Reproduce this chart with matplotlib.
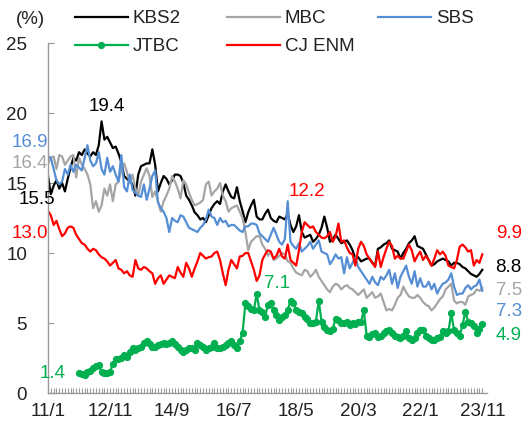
#!/usr/bin/env python3
"""
plot.py - monthly channel share lines (KBS2 / MBC / SBS / JTBC / CJ ENM), 2011/1 - 2023/11.
Writes out.png (525x422).
"""

import matplotlib.pyplot as plt
import numpy as np
import pandas as pd


# ── Data ───────────────────────────────────────────────────────────────────────

months = pd.period_range("2011-01", "2023-11", freq="M")
jtbc_first_month = "2011-12"

kbs2 = [
    15.5, 14.2, 14.8, 15.2, 14.6, 15.0, 14.4, 15.3, 16.1, 16.8,
    16.6, 17.2, 17.0, 17.4, 17.1, 16.9, 17.2, 17.0, 17.7, 19.4,
    18.1, 18.3, 17.9, 17.5, 17.6, 17.1, 16.5, 15.5, 15.3, 15.1,
    14.9, 14.1, 15.6, 16.2, 16.3, 16.4, 16.4, 17.4, 16.3, 14.4,
    15.0, 15.5, 15.3, 14.9, 15.2, 15.6, 15.6, 15.5, 15.0, 14.1,
    13.8, 13.4, 12.9, 12.7, 12.4, 12.5, 12.2, 12.7, 13.2, 13.5,
    13.7, 13.5, 14.4, 14.9, 14.4, 14.0, 13.9, 14.7, 13.7, 13.0,
    12.2, 12.9, 13.4, 13.8, 12.6, 12.4, 12.4, 12.8, 13.1, 12.5,
    12.3, 12.2, 12.6, 12.5, 12.4, 12.8, 12.0, 11.5, 11.9, 12.7,
    11.5, 11.1, 11.2, 11.3, 10.8, 11.0, 11.3, 11.8, 12.6, 11.8,
    10.8, 11.0, 11.3, 11.0, 10.7, 10.8, 10.9, 10.6, 10.2, 9.6,
    9.7, 9.4, 9.5, 9.6, 9.6, 9.3, 9.1, 10.3, 10.4, 10.6,
    10.7, 10.9, 10.3, 10.2, 10.1, 9.6, 10.0, 10.3, 10.7, 10.9,
    11.2, 10.5, 10.4, 10.3, 9.9, 9.5, 9.1, 9.2, 9.4, 9.5,
    9.6, 9.5, 9.4, 9.1, 9.3, 9.3, 9.2, 9.0, 8.9, 8.7,
    8.5, 8.4, 8.3, 8.5, 8.8,
]

mbc = [
    16.4, 16.8, 16.9, 16.0, 17.0, 16.9, 16.3, 16.6, 16.9, 17.0,
    15.4, 16.8, 16.3, 16.0, 15.6, 14.9, 13.2, 13.7, 12.95, 13.4,
    14.6, 14.1, 14.9, 13.7, 14.9, 15.1, 15.9, 16.4, 15.8, 15.0,
    15.6, 14.6, 14.1, 15.1, 15.6, 16.05, 15.5, 14.0, 14.4, 13.7,
    12.95, 13.7, 14.1, 14.6, 15.5, 15.1, 14.6, 13.9, 15.2, 14.9,
    14.3, 13.8, 13.4, 13.5, 13.6, 13.8, 14.9, 15.1, 14.1, 14.4,
    14.6, 15.0, 14.1, 13.7, 12.95, 13.2, 13.3, 13.4, 12.95, 12.5,
    11.5, 10.2, 10.8, 11.0, 11.2, 11.2, 10.6, 10.3, 9.8, 10.1,
    9.5, 9.6, 9.8, 10.0, 9.9, 9.4, 9.3, 8.9, 8.6, 8.5,
    8.4, 8.8, 8.7, 8.3, 8.5, 8.8, 8.3, 8.0, 7.7, 7.4,
    7.2, 7.6, 7.8, 7.7, 7.4, 7.6, 7.7, 7.5, 7.4, 7.2,
    7.0, 7.2, 7.4, 6.8, 7.0, 7.2, 6.8, 6.9, 7.1, 6.5,
    5.9, 6.0, 5.9, 6.3, 6.8, 7.0, 7.6, 7.2, 6.9, 6.8,
    6.8, 7.0, 6.8, 6.5, 6.3, 6.2, 5.9, 6.1, 6.4, 6.7,
    6.9, 7.4, 7.6, 7.8, 6.6, 6.4, 6.5, 6.5, 6.3, 6.9,
    7.0, 7.1, 7.4, 7.3, 7.5,
]

sbs = [
    16.9, 16.8, 16.0, 15.2, 14.9, 15.1, 16.0, 15.6, 16.3, 15.8,
    16.3, 16.1, 15.9, 16.8, 17.7, 16.6, 16.2, 16.4, 17.2, 16.0,
    15.6, 16.8, 15.8, 16.2, 15.6, 15.1, 17.0, 14.7, 14.4, 15.6,
    14.5, 14.3, 14.1, 14.0, 14.9, 13.8, 14.6, 15.5, 15.9, 13.6,
    13.2, 12.95, 12.5, 11.5, 12.5, 12.3, 12.2, 12.7, 12.6, 12.2,
    11.8, 11.7, 11.6, 11.5, 11.8, 12.0, 12.4, 13.1, 12.6, 12.5,
    12.0, 12.5, 12.2, 12.3, 11.9, 12.0, 12.0, 11.8, 11.6, 11.5,
    11.9, 11.9, 12.1, 12.1, 12.0, 11.4, 11.2, 11.0, 10.8, 11.3,
    11.8, 11.3, 10.8, 10.6, 11.0, 13.7, 10.8, 10.5, 10.3, 10.7,
    10.1, 10.3, 10.5, 10.8, 10.3, 10.6, 10.9, 10.1, 10.0, 9.9,
    9.2, 9.5, 9.9, 9.6, 9.7, 8.55, 9.7, 8.9, 9.3, 9.7,
    9.0, 8.7, 8.4, 8.1, 7.8, 8.3, 7.9, 7.7, 8.3, 8.1,
    8.4, 8.8, 7.8, 8.55, 7.5, 8.3, 8.7, 9.1, 8.3, 7.8,
    8.7, 7.6, 8.2, 7.6, 7.6, 7.95, 7.4, 7.8, 7.1, 7.5,
    7.8, 7.9, 8.1, 8.55, 7.6, 7.0, 7.1, 7.1, 7.5, 7.7,
    7.4, 7.6, 7.7, 8.1, 7.3,
]

# JTBC starts in 2011/12
jtbc = [
    1.4, 1.35, 1.3, 1.5, 1.6, 1.8, 1.9, 2.0, 1.5, 1.45,
    1.4, 1.5, 2.1, 2.4, 2.4, 2.5, 2.7, 2.6, 2.95, 3.2,
    3.1, 3.2, 3.3, 3.6, 3.7, 3.5, 3.3, 3.3, 3.4, 3.5,
    3.55, 3.5, 3.6, 3.7, 3.5, 3.3, 3.1, 2.95, 3.1, 3.2,
    3.2, 3.1, 3.55, 3.4, 3.3, 3.1, 3.2, 3.3, 3.55, 3.2,
    3.25, 3.3, 3.45, 3.55, 3.7, 3.4, 3.2, 3.7, 4.3, 6.4,
    6.2, 6.0, 5.9, 7.1, 5.9, 5.8, 5.45, 6.3, 6.4, 5.9,
    5.6, 5.2, 5.45, 5.6, 5.9, 6.6, 6.4, 5.9, 5.8, 5.7,
    5.45, 5.3, 5.0, 5.0, 5.1, 6.6, 5.1, 4.7, 4.5, 4.4,
    4.6, 5.3, 5.2, 5.0, 5.0, 5.1, 4.85, 5.0, 4.9, 5.1,
    5.1, 5.9, 4.1, 4.0, 4.2, 4.3, 4.0, 4.1, 4.3, 4.4,
    4.5, 4.3, 4.1, 4.0, 3.9, 4.1, 4.4, 3.9, 3.8, 3.9,
    4.3, 4.5, 4.5, 4.1, 3.9, 3.8, 3.8, 3.9, 4.0, 4.4,
    4.3, 4.4, 5.7, 4.5, 4.3, 4.1, 4.85, 5.8, 5.1, 5.0,
    4.8, 4.3, 4.6, 4.9,
]

cj_enm = [
    13.0, 12.7, 12.0, 12.3, 11.7, 11.2, 11.4, 11.8, 11.9, 11.8,
    11.3, 11.0, 10.7, 10.6, 10.3, 10.1, 10.3, 10.2, 9.9, 9.7,
    9.6, 9.4, 9.1, 9.3, 9.5, 8.9, 8.8, 8.55, 8.7, 8.4,
    8.3, 9.5, 8.9, 8.8, 9.0, 8.9, 8.7, 8.55, 7.8, 8.2,
    8.4, 7.8, 8.1, 8.4, 8.3, 8.2, 9.0, 8.6, 8.3, 9.3,
    8.9, 8.3, 8.9, 9.4, 10.0, 9.8, 9.6, 9.7, 9.75, 10.0,
    10.1, 9.5, 8.55, 7.7, 8.8, 9.5, 9.2, 8.9, 9.75, 9.8,
    10.0, 10.0, 9.4, 8.8, 8.0, 8.4, 9.5, 9.9, 10.2, 10.1,
    9.6, 9.8, 10.3, 9.75, 9.6, 10.6, 9.5, 9.3, 9.1, 10.2,
    11.5, 12.2, 12.0, 11.8, 11.9, 11.5, 11.3, 11.1, 11.05, 11.2,
    11.5, 10.8, 11.2, 12.1, 10.8, 10.9, 10.4, 10.0, 9.9, 9.1,
    10.3, 10.8, 10.5, 9.9, 9.6, 9.3, 9.0, 10.1, 9.0, 9.7,
    10.3, 10.8, 10.5, 9.6, 9.8, 9.6, 9.6, 10.1, 10.6, 10.2,
    9.4, 9.8, 10.1, 9.5, 9.8, 9.5, 9.1, 9.6, 10.2, 9.9,
    10.1, 9.8, 9.1, 9.0, 8.9, 9.5, 10.45, 10.6, 10.4, 10.1,
    10.2, 9.1, 9.5, 9.3, 9.9,
]

# ── Style ──────────────────────────────────────────────────────────────────────

FONT = "Liberation Sans"
FS = 13.5
AXIS_GREY = "#9a9a9a"
TEXT = "#222222"

COLORS = {
    "KBS2":   "#000000",
    "MBC":    "#a5a5a5",
    "SBS":    "#558ed5",
    "JTBC":   "#00b050",
    "CJ ENM": "#ff0000",
}


def label_point(ax, xi, yi, text, color, dx, dy):
    """Data label offset (in points) from a plotted point."""
    ax.annotate(text, xy=(xi, yi), xytext=(dx, dy), textcoords="offset points",
                ha="center", va="center", color=color, fontsize=FS)


def main():
    plt.rcParams["font.family"] = [FONT, "DejaVu Sans"]

    x = np.arange(len(months))
    jtbc_x = np.arange(months.get_loc(pd.Period(jtbc_first_month, "M")), len(months))
    assert len(kbs2) == len(mbc) == len(sbs) == len(cj_enm) == len(x)
    assert len(jtbc) == len(jtbc_x)

    fig = plt.figure(figsize=(5.25, 4.22), dpi=100)
    ax = fig.add_axes([48 / 525, 29 / 422, 438.5 / 525, 350 / 422])

    lw = 1.6
    h_kbs, = ax.plot(x, kbs2, color=COLORS["KBS2"], lw=lw, label="KBS2")
    h_mbc, = ax.plot(x, mbc, color=COLORS["MBC"], lw=lw, label="MBC")
    h_sbs, = ax.plot(x, sbs, color=COLORS["SBS"], lw=lw, label="SBS")
    h_jtbc, = ax.plot(jtbc_x, jtbc, color=COLORS["JTBC"], lw=lw, marker="o",
                      markersize=4.2, label="JTBC")
    h_cj, = ax.plot(x, cj_enm, color=COLORS["CJ ENM"], lw=lw, label="CJ ENM")

    # axes
    ax.set_xlim(0, 155.5)
    ax.set_ylim(0, 25)
    for side in ("top", "right"):
        ax.spines[side].set_visible(False)
    for side in ("left", "bottom"):
        ax.spines[side].set_color(AXIS_GREY)
        ax.spines[side].set_linewidth(1.0)

    major = list(range(0, len(months), 22))
    ax.set_xticks(major)
    ax.set_xticklabels([f"{months[i].year % 100}/{months[i].month}" for i in major])
    ax.set_xticks(x, minor=True)
    ax.set_yticks(range(0, 26, 5))
    ax.tick_params(axis="x", which="both", direction="in", length=3.5, width=0.8,
                   color=AXIS_GREY, labelsize=FS, labelcolor=TEXT, pad=7)
    ax.tick_params(axis="y", direction="in", length=4, width=0.8,
                   color=AXIS_GREY, labelsize=FS, labelcolor=TEXT, pad=15)

    fig.text(30 / 525, 1 - 19 / 422, "(%)", ha="center", va="center",
             fontsize=FS, color=TEXT)

    # legend: 3 fixed-width columns, row-major like the source
    columns = [([h_kbs, h_jtbc], 75), ([h_mbc, h_cj], 227), ([h_sbs], 378)]
    for handles, px in columns:
        fig.legend(handles=handles, loc="upper left",
                   bbox_to_anchor=(px / 525, 1 - 10 / 422),
                   frameon=False, fontsize=FS, borderpad=0, borderaxespad=0,
                   handlelength=2.8, handletextpad=0.28, labelspacing=0.58,
                   numpoints=1, labelcolor=TEXT)

    # data labels
    last = len(months) - 1
    label_point(ax, 0, kbs2[0], f"{kbs2[0]:.1f}", COLORS["KBS2"], -8, -17)
    label_point(ax, 0, mbc[0], f"{mbc[0]:.1f}", COLORS["MBC"], -13, 0)
    label_point(ax, 0, sbs[0], f"{sbs[0]:.1f}", COLORS["SBS"], -13, 10)
    label_point(ax, 0, cj_enm[0], f"{cj_enm[0]:.1f}", COLORS["CJ ENM"], -13, -16)
    label_point(ax, jtbc_x[0], jtbc[0], f"{jtbc[0]:.1f}", COLORS["JTBC"], -19, 0)

    i = int(np.argmax(kbs2))
    label_point(ax, i, kbs2[i], f"{kbs2[i]:.1f}", COLORS["KBS2"], 4, 11)
    i = int(np.argmax(jtbc))
    label_point(ax, jtbc_x[i], jtbc[i], f"{jtbc[i]:.1f}", COLORS["JTBC"], 15, 7)
    i = int(np.argmax(cj_enm[60:])) + 60
    label_point(ax, i, cj_enm[i], f"{cj_enm[i]:.1f}", COLORS["CJ ENM"], 2, 22)

    label_point(ax, last, cj_enm[-1], f"{cj_enm[-1]:.1f}", COLORS["CJ ENM"], 19, 15)
    label_point(ax, last, kbs2[-1], f"{kbs2[-1]:.1f}", COLORS["KBS2"], 19, 2)
    label_point(ax, last, mbc[-1], f"{mbc[-1]:.1f}", COLORS["MBC"], 19, -1.5)
    label_point(ax, last, sbs[-1], f"{sbs[-1]:.1f}", COLORS["SBS"], 19, -15)
    label_point(ax, last, jtbc[-1], f"{jtbc[-1]:.1f}", COLORS["JTBC"], 19, -8)

    fig.savefig("out.png", dpi=100)
    plt.close(fig)


if __name__ == "__main__":
    main()
